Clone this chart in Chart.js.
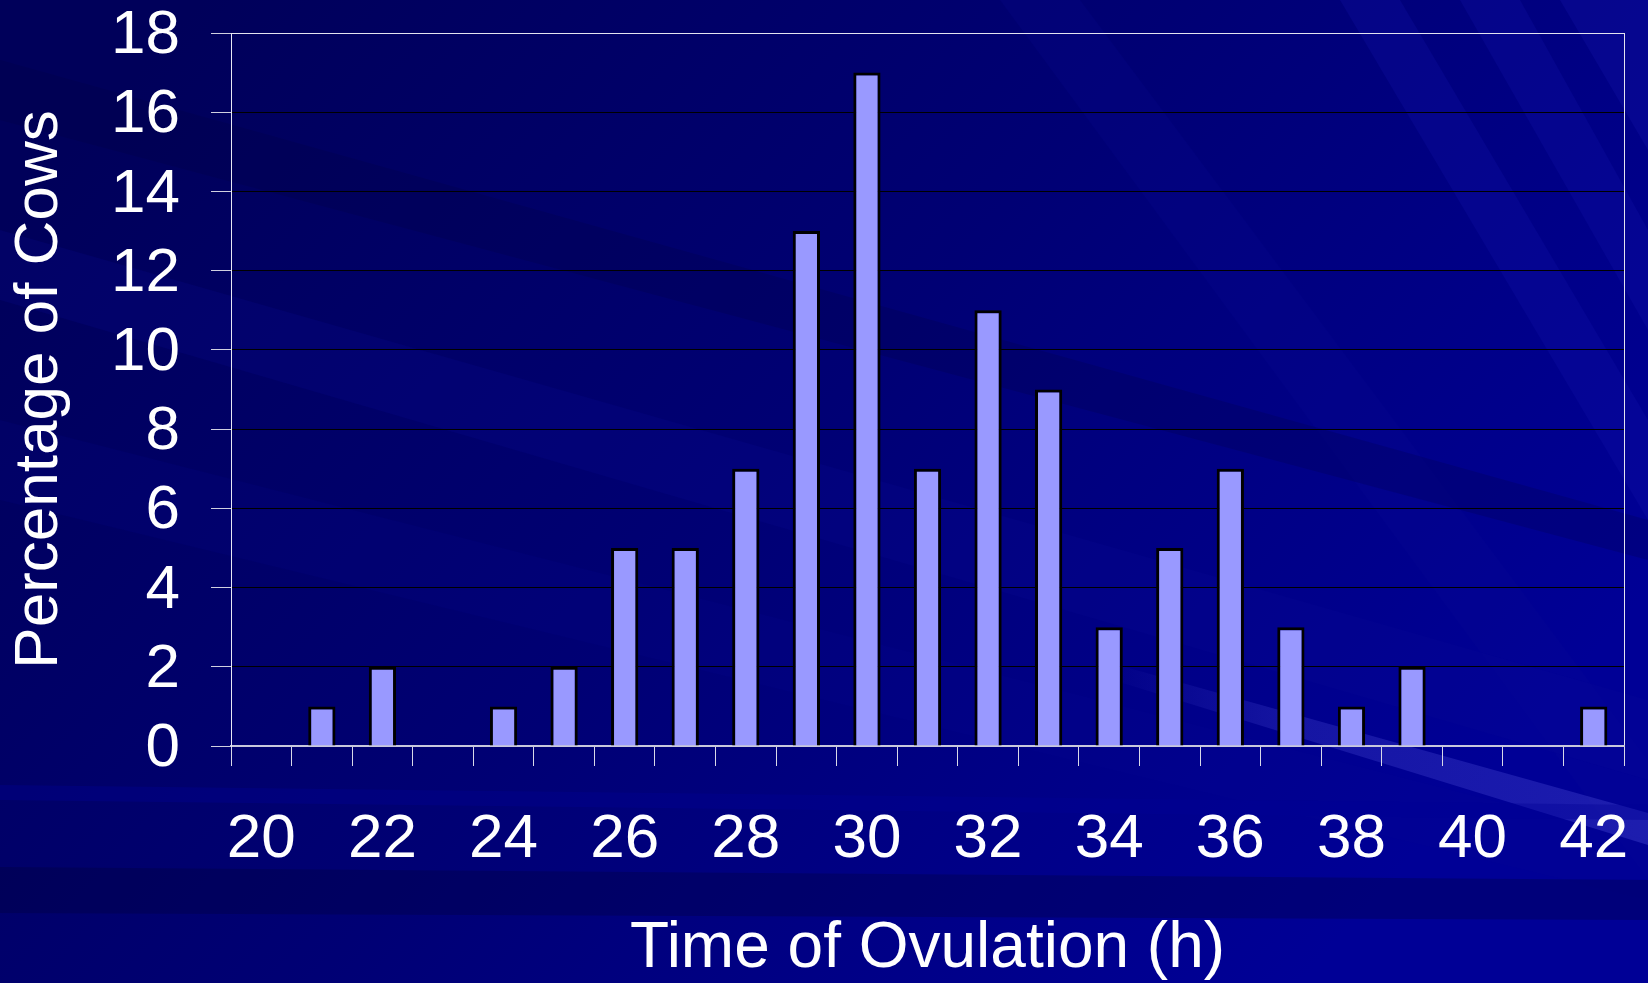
<!DOCTYPE html>
<html>
<head>
<meta charset="utf-8">
<script src="https://cdn.jsdelivr.net/npm/chart.js@4.4.1/dist/chart.umd.min.js"></script>
<style>
  html, body { margin: 0; padding: 0; background: #000070; }
  #wrap { width: 1648px; height: 983px; position: relative; }
</style>
</head>
<body>
<div id="wrap"><canvas id="ovulationChart"></canvas></div>
<script>
// hours after treatment
const hours = ['20', '21', '22', '23', '24', '25', '26', '27', '28', '29', '30', '31',
  '32', '33', '34', '35', '36', '37', '38', '39', '40', '41', '42']
// percentage of cows ovulating at each hour
const percentCows = [0, 1, 2, 0, 1, 2, 5, 5, 7, 13, 17, 7, 11, 9, 3, 5, 7, 3, 1, 2, 0, 0, 1]
const yMax = 18
const yStep = 2

const FONT = '"Liberation Sans", Arial, sans-serif'

// dark blue slide background with soft diagonal streaks
const slideBackground = {
  id: 'slideBackground',
  beforeDraw(chart) {
    const { ctx, width, height } = chart
    ctx.save()
    const g = ctx.createLinearGradient(200, 0, 1300, height)
    g.addColorStop(0, '#00005a')
    g.addColorStop(0.5, '#000074')
    g.addColorStop(1, '#000096')
    ctx.fillStyle = g
    ctx.fillRect(0, 0, width, height)

    const band = (pts, color) => {
      ctx.beginPath()
      ctx.moveTo(pts[0][0], pts[0][1])
      for (let i = 1; i < pts.length; i++) ctx.lineTo(pts[i][0], pts[i][1])
      ctx.closePath()
      ctx.fillStyle = color
      ctx.fill()
    }
    // steep streaks at the top right
    band([[1340, 0], [1400, 0], [1648, 420], [1648, 520]], 'rgba(20,20,170,0.25)')
    band([[1460, 0], [1520, 0], [1648, 230], [1648, 330]], 'rgba(20,20,170,0.25)')
    band([[1560, 0], [1648, 0], [1648, 150]], 'rgba(20,20,170,0.3)')
    band([[1000, 0], [1080, 0], [1648, 760], [1648, 880]], 'rgba(10,10,150,0.18)')
    // shallow streaks across the middle
    band([[0, 230], [0, 300], [1648, 780], [1648, 700]], 'rgba(10,10,150,0.2)')
    band([[0, 420], [0, 500], [1648, 900], [1648, 840]], 'rgba(10,10,150,0.15)')
    band([[0, 60], [0, 120], [1648, 560], [1648, 520]], 'rgba(0,0,60,0.2)')
    // light streak at the bottom right, fading in from the left
    const lg = ctx.createLinearGradient(1100, 0, 1648, 0)
    lg.addColorStop(0, 'rgba(70,70,210,0)')
    lg.addColorStop(0.35, 'rgba(70,70,210,0.3)')
    lg.addColorStop(1, 'rgba(70,70,210,0.4)')
    band([[1100, 660], [1100, 676], [1648, 845], [1648, 813]], lg)
    // bands along the bottom
    band([[0, 785], [0, 800], [1648, 820], [1648, 805]], 'rgba(0,0,150,0.35)')
    band([[0, 867], [0, 913], [1648, 920], [1648, 880]], 'rgba(0,0,50,0.28)')
    ctx.restore()
  }
}

const ctx = document.getElementById('ovulationChart')
// eslint-disable-next-line no-unused-vars
const ovulationChart = new Chart(ctx, {
  type: 'bar',
  data: {
    labels: hours,
    datasets: [{
      data: percentCows,
      backgroundColor: '#9999ff',
      borderColor: '#000000',
      borderWidth: 3,
      borderSkipped: 'start',
      categoryPercentage: 1,
      barPercentage: 0.45
    }]
  },
  options: {
    responsive: true,
    maintainAspectRatio: false,
    animation: false,
    layout: {
      padding: { top: 33, right: 24, left: 0, bottom: 0 }
    },
    plugins: {
      legend: { display: false },
      tooltip: { enabled: false }
    },
    scales: {
      x: {
        z: 1,
        offset: true,
        grid: {
          offset: true,
          // only the closing line on the right is visible inside the plot
          color: (c) => (c.index === undefined ? '#e4e4f0' : 'rgba(0,0,0,0)'),
          tickColor: '#d8d8e8',
          tickLength: 20,
          lineWidth: 1
        },
        border: { color: '#c8c8dc', width: 2 },
        ticks: {
          autoSkip: false,
          maxRotation: 0,
          minRotation: 0,
          color: '#ffffff',
          padding: 37,
          font: { family: FONT, size: 62, lineHeight: 1.2 },
          callback: function (value, index) {
            return index % 2 === 0 ? this.getLabelForValue(value) : ''
          }
        },
        title: {
          display: true,
          text: 'Time of Ovulation (h)',
          color: '#ffffff',
          font: { family: FONT, size: 64, lineHeight: 1.05 },
          padding: { top: 0, bottom: 0 }
        },
        afterFit(scale) {
          scale.height = 237
          scale.paddingLeft = 0
          scale.paddingRight = 0
        }
      },
      y: {
        min: 0,
        max: yMax,
        grid: {
          color: (c) => (c.tick && c.tick.value === yMax ? '#e4e4f0' : '#000000'),
          tickColor: '#d0d0e0',
          tickLength: 20,
          lineWidth: 1
        },
        border: { color: '#e8e8f4', width: 1 },
        ticks: {
          stepSize: yStep,
          color: '#ffffff',
          padding: 31,
          labelOffset: 3,
          font: { family: FONT, size: 62, lineHeight: 1 }
        },
        title: {
          display: true,
          text: 'Percentage of Cows',
          color: '#ffffff',
          font: { family: FONT, size: 62, lineHeight: 1.2 },
          padding: { top: 3, bottom: 0 }
        },
        afterFit(scale) {
          scale.width = 231
          scale.paddingTop = 0
          scale.paddingBottom = 0
        }
      }
    }
  },
  plugins: [slideBackground]
})
</script>
</body>
</html>
